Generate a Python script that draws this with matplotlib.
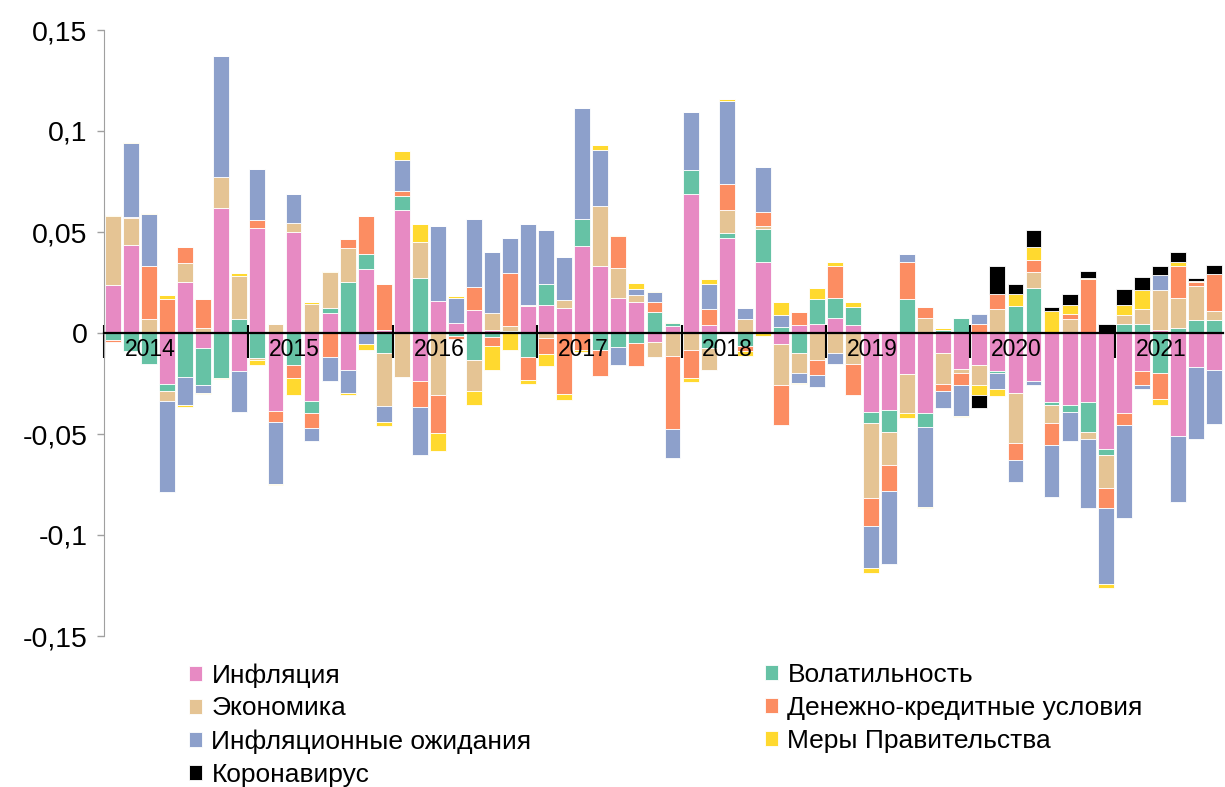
import numpy as np
import matplotlib
matplotlib.use("Agg")
import matplotlib.pyplot as plt
from matplotlib.transforms import ScaledTranslation

plt.rcParams['font.family'] = ['Liberation Sans', 'DejaVu Sans']

# Board meetings: 8 per year, 2014 .. mid-2021
years = ['2014', '2015', '2016', '2017', '2018', '2019', '2020', '2021']
meetings_per_year = 8

inflation = [0.024, 0.0434, 0.0, -0.0252, 0.0254, -0.0074, 0.062, -0.019,
             0.052, -0.0388, 0.0502, -0.0339, 0.0099, -0.0185, 0.0317, 0.0013,
             0.0608, -0.024, 0.016, 0.005, 0.0116, 0.0017, 0.0, 0.0132,
             0.0139, 0.0126, 0.0431, 0.0332, 0.0175, 0.0154, -0.0045, 0.0035,
             0.0687, 0.0038, 0.0468, 0.0, 0.0352, -0.0053, 0.004, 0.0046,
             0.0073, 0.004, -0.039, -0.0383, -0.0205, -0.0395, -0.0097, -0.018,
             -0.016, -0.0188, -0.0296, -0.0238, -0.034, -0.0355, -0.0342, -0.0575,
             -0.0396, -0.019, 0.0017, -0.0512, -0.017, -0.0185]

volatility = [-0.0035, -0.0089, -0.0151, -0.0035, -0.0216, -0.0183, -0.0222, 0.0071,
              -0.0124, 0.0, -0.0157, -0.0058, 0.0025, 0.0251, 0.0076, -0.0099,
              0.0069, 0.0273, 0.0, -0.0017, -0.0133, -0.0018, 0.0012, -0.012,
              0.0102, 0.0, 0.0135, -0.0086, -0.007, -0.005, 0.0102, 0.0013,
              0.0121, -0.0075, 0.0026, -0.0062, 0.0165, 0.0031, -0.0097, 0.0121,
              0.0099, 0.0091, -0.0055, -0.0106, 0.0167, -0.0071, 0.0015, 0.0076,
              0.0, -0.0008, 0.0132, 0.0225, -0.0015, -0.0036, -0.0149, -0.0028,
              0.0045, 0.0045, -0.0198, 0.0025, 0.0066, 0.0066]

economy = [0.0339, 0.0135, 0.0071, -0.005, 0.0092, 0.0023, 0.0154, 0.0209,
           -0.0012, 0.0046, 0.0043, 0.0145, 0.0178, 0.017, 0.0, -0.0264,
           -0.0218, 0.0177, -0.0306, 0.0, -0.0154, 0.0084, 0.0025, 0.0008,
           -0.0025, 0.0036, 0.0, 0.0297, 0.0149, 0.0035, -0.0076, -0.0113,
           -0.0086, -0.0108, 0.0116, 0.0068, 0.0013, -0.0202, -0.0099, -0.0134,
           -0.0097, -0.0155, -0.037, -0.0165, -0.019, 0.0076, -0.0157, -0.0017,
           -0.0099, 0.0117, -0.0251, 0.0078, -0.0092, 0.0071, -0.0035, -0.0165,
           0.0043, 0.0076, 0.0198, 0.0149, 0.0165, 0.0045]

monetary = [-0.0012, 0.0007, 0.0262, 0.017, 0.008, 0.0147, 0.0, 0.0,
            0.0041, -0.0051, -0.0065, -0.0071, -0.0121, 0.0045, 0.0185, 0.0231,
            0.0028, -0.0124, -0.019, -0.0015, 0.0114, -0.0045, 0.0258, -0.0112,
            -0.008, -0.0304, -0.0085, -0.0127, 0.0154, -0.0112, 0.0051, -0.0363,
            -0.0135, 0.0079, 0.0127, -0.0026, 0.0071, -0.0198, 0.0064, -0.0076,
            0.016, -0.0154, -0.014, -0.0126, 0.0185, 0.0053, -0.0033, -0.0058,
            0.0046, 0.0078, -0.0084, 0.0058, -0.0105, 0.0023, 0.0268, -0.0099,
            -0.0058, -0.0066, -0.0127, 0.0157, 0.002, 0.0183]

expectations = [0.0, 0.0365, 0.0254, -0.0452, -0.0142, -0.0039, 0.0596, -0.0199,
                0.0252, -0.0309, 0.0142, -0.0066, -0.0119, -0.0112, -0.0055, -0.0078,
                0.015, -0.024, 0.0368, 0.0124, 0.0335, 0.0302, 0.0173, 0.0398,
                0.0268, 0.0215, 0.055, 0.0278, -0.009, 0.0028, 0.005, -0.0142,
                0.0287, 0.0124, 0.0413, 0.0058, 0.0221, 0.0058, -0.005, -0.0058,
                -0.0055, 0.0, -0.0207, -0.0363, 0.0041, -0.0395, -0.0086, -0.0154,
                0.005, -0.0079, -0.0106, -0.002, -0.0262, -0.0145, -0.0342, -0.0375,
                -0.0463, -0.002, 0.0074, -0.0327, -0.0354, -0.0264]

government = [0.0004, 0.0005, 0.0007, 0.0018, -0.0009, -0.0007, -0.0007, 0.0016,
              -0.0021, -0.0005, -0.0086, 0.0007, 0.0007, -0.0008, -0.0028, -0.0021,
              0.0045, 0.0088, -0.0086, 0.0007, -0.0071, -0.0121, -0.0083, -0.0021,
              -0.0056, -0.0028, -0.0007, 0.0023, 0.0005, 0.003, 0.0005, 0.0006,
              -0.0021, 0.0025, 0.0008, -0.0025, -0.0017, 0.0064, -0.0008, 0.0058,
              0.002, 0.0023, -0.0028, 0.0, -0.0028, -0.0005, 0.001, -0.0008,
              -0.005, -0.0036, 0.0063, 0.0063, 0.011, 0.0043, 0.0005, -0.0018,
              0.005, 0.0094, -0.003, 0.0021, 0.0008, 0.0]

covid = [0.0] * 48 + [-0.0064, 0.0137, 0.0046, 0.0086, 0.0019, 0.0056, 0.0036, 0.0045,
                      0.0078, 0.0063, 0.0041, 0.005, 0.0013, 0.0045]

series = [
    ('Инфляция', inflation, '#E78AC3'),
    ('Волатильность', volatility, '#66C2A5'),
    ('Экономика', economy, '#E5C494'),
    ('Денежно-кредитные условия', monetary, '#FC8D62'),
    ('Инфляционные ожидания', expectations, '#8DA0CB'),
    ('Меры Правительства', government, '#FFD92F'),
    ('Коронавирус', covid, '#000000'),
]

n = len(inflation)
x = np.arange(n) + 0.5

fig = plt.figure(figsize=(12.25, 7.87), dpi=100)
ax = fig.add_axes([104 / 1225, 1 - 636 / 787, (1223 - 104) / 1225, 606 / 787])

# positives stack upward from zero, negatives downward, in series order
pos_base = np.zeros(n)
neg_base = np.zeros(n)
handles = {}
for name, vals, col in series:
    v = np.array(vals)
    bottom = np.where(v >= 0, pos_base, neg_base)
    handles[name] = ax.bar(x, v, width=0.88, bottom=bottom, color=col,
                           edgecolor='white', linewidth=0.6, label=name)
    pos_base += np.clip(v, 0, None)
    neg_base += np.clip(v, None, 0)

ax.set_xlim(0, n)
ax.set_ylim(-0.15, 0.15)

yt = [-0.15, -0.1, -0.05, 0, 0.05, 0.1, 0.15]
ax.set_yticks(yt)
ax.set_yticklabels([('%g' % t).replace('.', ',') for t in yt], fontsize=20.5)
ax.tick_params(axis='y', length=5, width=1, color='#A0A0A0', pad=7)

for s in ['top', 'right']:
    ax.spines[s].set_visible(False)
ax.spines['left'].set_color('#A0A0A0')
ax.spines['bottom'].set_position(('data', 0))
ax.spines['bottom'].set_color('black')
ax.spines['bottom'].set_linewidth(1.6)
ax.spines['bottom'].set_zorder(5)

# year boundary ticks: long below the axis, short above
bounds = np.arange(len(years)) * meetings_per_year
ax.xaxis.remove_overlapping_locs = False
ax.set_xticks(bounds)
ax.set_xticks(bounds, minor=True)
ax.set_xticklabels([])
ax.tick_params(axis='x', which='major', direction='out', length=18, width=1.5, color='black')
ax.tick_params(axis='x', which='minor', direction='in', length=6, width=1.5, color='black')

shift = ax.transData + ScaledTranslation(0, -17 / 100, fig.dpi_scale_trans)
for b, yr in zip(bounds, years):
    ax.text(b + 1.15, 0, yr, transform=shift, ha='left', va='center', fontsize=16.5, zorder=6)

left_names = ['Инфляция', 'Экономика', 'Инфляционные ожидания', 'Коронавирус']
right_names = ['Волатильность', 'Денежно-кредитные условия', 'Меры Правительства']
leg_kw = dict(loc='upper left', frameon=False, fontsize=19, handlelength=0.5,
              handleheight=0.5, handletextpad=0.35, labelspacing=0.34,
              borderpad=0, borderaxespad=0)
fig.legend([handles[k] for k in left_names], left_names,
           bbox_to_anchor=(189 / 1225, 1 - 663 / 787), **leg_kw)
fig.legend([handles[k] for k in right_names], right_names,
           bbox_to_anchor=(765 / 1225, 1 - 663 / 787), **leg_kw)

fig.savefig('out.png', dpi=100)
